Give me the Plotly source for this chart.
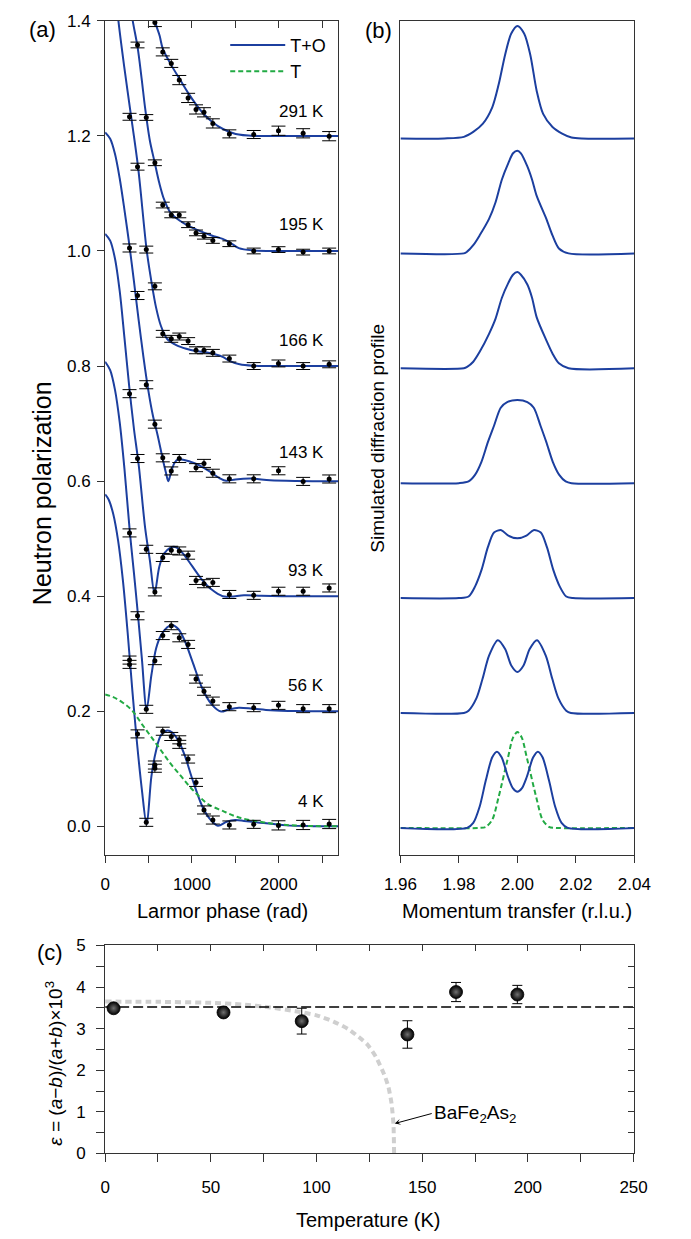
import plotly.graph_objects as go

W, H = 691, 1239
BLUE = "#1c3f9f"
GREEN = "#22aa44"
FONT = "Liberation Sans, Arial, sans-serif"

# ---------------- panel (a): measured polarization ----------------
x_4K = [281, 281, 373, 474, 573, 573, 664, 762, 854, 854, 956, 1047, 1139, 1241, 1431, 1712, 1997, 2281, 2581]
y_4K = [0.289, 0.2815, 0.1607, 0.007, 0.1066, 0.101, 0.1653, 0.1562, 0.1504, 0.1425, 0.117, 0.0764, 0.0285, 0.011, 0.0024, 0.0035, 0.0017, 0.0024, 0.0041]
e_4K = [0.007, 0.007, 0.007, 0.007, 0.007, 0.007, 0.007, 0.007, 0.007, 0.007, 0.007, 0.007, 0.007, 0.007, 0.007, 0.007, 0.008, 0.008, 0.008]

x_56K = [281, 373, 474, 573, 664, 762, 854, 956, 1047, 1139, 1241, 1431, 1712, 1997, 2281, 2581]
y_56K = [0.510, 0.366, 0.2034, 0.288, 0.3316, 0.3487, 0.3277, 0.3162, 0.2559, 0.2348, 0.2177, 0.208, 0.2063, 0.2103, 0.2046, 0.2046]
e_56K = [0.007, 0.007, 0.007, 0.007, 0.007, 0.007, 0.007, 0.007, 0.007, 0.007, 0.007, 0.007, 0.007, 0.007, 0.007, 0.007]

x_93K = [281, 373, 474, 573, 664, 762, 854, 956, 1047, 1139, 1241, 1431, 1712, 1997, 2281, 2581]
y_93K = [0.752, 0.6393, 0.4815, 0.4075, 0.4673, 0.4798, 0.4786, 0.4713, 0.4274, 0.4217, 0.424, 0.403, 0.4015, 0.4086, 0.4086, 0.4143]
e_93K = [0.007, 0.007, 0.007, 0.007, 0.007, 0.007, 0.007, 0.007, 0.007, 0.007, 0.007, 0.007, 0.007, 0.007, 0.007, 0.007]

x_143K = [281, 373, 474, 573, 664, 762, 854, 1047, 1139, 1241, 1431, 1712, 1997, 2281, 2581]
y_143K = [1.0052, 0.9226, 0.7675, 0.699, 0.6405, 0.6177, 0.6393, 0.6234, 0.6308, 0.6137, 0.604, 0.604, 0.618, 0.5995, 0.6037]
e_143K = [0.007, 0.007, 0.007, 0.007, 0.007, 0.007, 0.007, 0.007, 0.007, 0.007, 0.007, 0.007, 0.007, 0.007, 0.007]

x_166K = [281, 373, 474, 573, 664, 762, 854, 956, 1047, 1139, 1241, 1431, 1712, 1997, 2281, 2581]
y_166K = [1.2332, 1.1465, 1.0024, 0.9385, 0.856, 0.8473, 0.8513, 0.8434, 0.8274, 0.8274, 0.8229, 0.813, 0.800, 0.8045, 0.800, 0.803]
e_166K = [0.006, 0.006, 0.006, 0.006, 0.006, 0.006, 0.006, 0.006, 0.006, 0.006, 0.006, 0.006, 0.006, 0.006, 0.006, 0.006]

x_195K = [373, 474, 573, 664, 762, 854, 956, 1047, 1139, 1241, 1431, 1712, 1997, 2281, 2581]
y_195K = [1.358, 1.232, 1.1533, 1.0798, 1.0627, 1.0627, 1.0456, 1.0314, 1.0256, 1.0183, 1.0126, 1.000, 1.0024, 0.998, 1.000]
e_195K = [0.005, 0.005, 0.005, 0.005, 0.005, 0.005, 0.005, 0.005, 0.005, 0.005, 0.005, 0.005, 0.005, 0.005, 0.005]

x_291K = [573, 664, 762, 854, 956, 1047, 1139, 1241, 1431, 1712, 1997, 2281, 2581]
y_291K = [1.397, 1.346, 1.326, 1.297, 1.266, 1.246, 1.241, 1.2217, 1.2035, 1.2024, 1.209, 1.2045, 1.1995]
e_291K = [0.007, 0.007, 0.007, 0.008, 0.008, 0.008, 0.008, 0.008, 0.007, 0.007, 0.008, 0.008, 0.008]

# fitted curves (T+O model)
fx_4K = [0, 40, 94, 149, 204, 259, 314, 368, 423, 478, 533, 587, 642, 715, 770, 843, 916, 1007, 1117, 1208, 1300, 1400, 1500, 1600, 1759, 2088, 2400, 2700]
fy_4K = [0.577, 0.568, 0.5425, 0.497, 0.4285, 0.3374, 0.2349, 0.1436, 0.064, 0.003, 0.0867, 0.132, 0.158, 0.1665, 0.1636, 0.149, 0.1238, 0.081, 0.0354, 0.0126, 0.001, 0.008, 0.011, 0.0095, 0.0068, 0.0017, 0.0003, 0.0]

fx_56K = [0, 58, 113, 168, 222, 285, 332, 379, 423, 478, 533, 587, 642, 715, 770, 843, 916, 1007, 1117, 1227, 1336, 1420, 1540, 1700, 1906, 2200, 2700]
fy_56K = [0.8075, 0.793, 0.759, 0.702, 0.622, 0.511, 0.440, 0.366, 0.2918, 0.2034, 0.263, 0.309, 0.3316, 0.346, 0.350, 0.343, 0.323, 0.286, 0.2405, 0.212, 0.1995, 0.203, 0.2063, 0.2045, 0.2017, 0.2003, 0.2]

fx_93K = [0, 58, 113, 168, 222, 277, 332, 387, 460, 515, 569, 624, 679, 752, 790, 825, 898, 1007, 1117, 1227, 1354, 1450, 1600, 1800, 2100, 2700]
fy_93K = [1.0297, 1.018, 0.987, 0.930, 0.850, 0.765, 0.6906, 0.628, 0.5197, 0.4627, 0.405, 0.4513, 0.474, 0.4844, 0.486, 0.4844, 0.474, 0.4513, 0.4285, 0.4115, 0.400, 0.3995, 0.4015, 0.4008, 0.4, 0.4]

fx_143K = [0, 58, 113, 168, 222, 277, 332, 387, 441, 496, 550, 606, 664, 700, 728, 760, 800, 844, 900, 1030, 1175, 1321, 1394, 1500, 1680, 1900, 2200, 2700]
fy_143K = [1.206, 1.195, 1.169, 1.126, 1.072, 1.0126, 0.947, 0.879, 0.816, 0.759, 0.714, 0.679, 0.638, 0.615, 0.600, 0.616, 0.632, 0.638, 0.637, 0.631, 0.6195, 0.605, 0.6005, 0.603, 0.6046, 0.6015, 0.6003, 0.6]

fx_166K = [0, 100, 153, 220, 285, 379, 478, 533, 587, 642, 715, 825, 934, 1044, 1190, 1354, 1431, 1550, 1700, 1900, 2200, 2700]
fy_166K = [1.63, 1.48, 1.40, 1.32, 1.249, 1.146, 1.002, 0.947, 0.9015, 0.870, 0.847, 0.836, 0.830, 0.826, 0.823, 0.816, 0.809, 0.803, 0.8005, 0.800, 0.800, 0.8]

fx_195K = [150, 250, 318, 373, 420, 460, 515, 569, 624, 679, 752, 861, 971, 1080, 1227, 1354, 1431, 1540, 1712, 2000, 2700]
fy_195K = [1.58, 1.47, 1.40, 1.355, 1.30, 1.249, 1.192, 1.155, 1.118, 1.0895, 1.0667, 1.0525, 1.0427, 1.0354, 1.027, 1.021, 1.0154, 1.005, 1.001, 1.0, 1.0]

fx_291K = [450, 520, 573, 628, 664, 762, 854, 956, 1047, 1139, 1241, 1358, 1504, 1723, 2000, 2700]
fy_291K = [1.56, 1.46, 1.40, 1.374, 1.3516, 1.323, 1.300, 1.2747, 1.2547, 1.2376, 1.2234, 1.212, 1.2034, 1.200, 1.2, 1.2]

# tetragonal-only model (T), 4 K
tx_4K = [0, 94, 204, 314, 423, 533, 642, 752, 861, 971, 1080, 1190, 1354, 1540, 1832, 2088, 2400, 2700]
ty_4K = [0.229, 0.2246, 0.2149, 0.2007, 0.1778, 0.155, 0.1323, 0.1094, 0.0896, 0.0696, 0.0525, 0.0383, 0.0268, 0.0154, 0.0068, 0.0024, 0.0005, 0.0]

temp_labels = ["4 K", "56 K", "93 K", "143 K", "166 K", "195 K", "291 K"]
label_y = [0.044, 0.245, 0.445, 0.650, 0.845, 1.046, 1.243]

# ---------------- panel (b): simulated diffraction profiles ----------------
q_291 = [1.96, 1.975, 1.9817, 1.9849, 1.9882, 1.9914, 1.9936, 1.9958, 1.9979, 2.000, 2.0023, 2.0044, 2.0066, 2.0088, 2.012, 2.0153, 2.0185, 2.022, 2.04]
h_291 = [0, 0, 0.014, 0.057, 0.129, 0.271, 0.471, 0.729, 0.914, 0.980, 0.914, 0.729, 0.414, 0.214, 0.100, 0.043, 0.009, 0, 0]

q_195 = [1.96, 1.9817, 1.9828, 1.9849, 1.9871, 1.9903, 1.9925, 1.9947, 1.9969, 1.9985, 2.000, 2.0012, 2.0034, 2.005, 2.0066, 2.0099, 2.012, 2.0142, 2.0175, 2.04]
h_195 = [0, 0, 0.015, 0.071, 0.157, 0.300, 0.443, 0.643, 0.786, 0.871, 0.894, 0.871, 0.757, 0.643, 0.500, 0.300, 0.157, 0.043, 0, 0]

q_166 = [1.96, 1.9817, 1.9828, 1.9849, 1.9871, 1.9903, 1.9925, 1.9947, 1.9969, 1.9985, 2.000, 2.0012, 2.0034, 2.005, 2.0066, 2.0099, 2.012, 2.0142, 2.0175, 2.04]
h_166 = [0, 0, 0.012, 0.057, 0.143, 0.300, 0.430, 0.614, 0.743, 0.814, 0.837, 0.814, 0.729, 0.614, 0.443, 0.243, 0.129, 0.043, 0, 0]

q_143 = [1.96, 1.980, 1.9833, 1.9855, 1.9877, 1.9899, 1.9920, 1.9943, 1.9965, 2.000, 2.0034, 2.0056, 2.0079, 2.0099, 2.0121, 2.0143, 2.0165, 2.0185, 2.04]
h_143 = [0, 0, 0.015, 0.072, 0.186, 0.357, 0.50, 0.657, 0.706, 0.723, 0.706, 0.657, 0.50, 0.357, 0.186, 0.072, 0.015, 0, 0]

q_93 = [1.96, 1.980, 1.9833, 1.9855, 1.9877, 1.9899, 1.9920, 1.9945, 1.9969, 2.000, 2.0031, 2.0055, 2.0080, 2.0101, 2.0123, 2.0145, 2.0167, 2.0190, 2.04]
h_93 = [0, 0, 0.014, 0.100, 0.243, 0.443, 0.571, 0.591, 0.543, 0.520, 0.543, 0.591, 0.571, 0.443, 0.243, 0.100, 0.014, 0, 0]

q_56 = [1.96, 1.9817, 1.9833, 1.986, 1.9881, 1.9903, 1.9933, 1.9958, 1.9979, 2.000, 2.0021, 2.0042, 2.0067, 2.0097, 2.0119, 2.014, 2.0167, 2.0183, 2.04]
h_56 = [0, 0, 0.020, 0.129, 0.300, 0.500, 0.634, 0.557, 0.414, 0.357, 0.414, 0.557, 0.634, 0.500, 0.300, 0.129, 0.020, 0, 0]

q_4 = [1.96, 1.9828, 1.9849, 1.9871, 1.9892, 1.9914, 1.9930, 1.9946, 1.9968, 1.9985, 2.000, 2.0015, 2.0032, 2.0054, 2.0070, 2.0086, 2.0108, 2.0129, 2.0151, 2.0172, 2.04]
h_4 = [0, 0, 0.043, 0.186, 0.414, 0.614, 0.663, 0.614, 0.443, 0.343, 0.314, 0.343, 0.443, 0.614, 0.663, 0.614, 0.414, 0.186, 0.043, 0, 0]

q_T = [1.96, 1.9870, 1.9892, 1.9914, 1.9936, 1.9968, 1.9985, 2.000, 2.0015, 2.0032, 2.0064, 2.0086, 2.0108, 2.013, 2.04]
h_T = [0, 0, 0.009, 0.071, 0.271, 0.614, 0.786, 0.834, 0.786, 0.614, 0.271, 0.071, 0.009, 0, 0]

profile_baselines = [0, 1, 2, 3, 4, 5, 6]

# ---------------- panel (c): orthorhombicity ----------------
T_c = [4, 56, 93, 143, 166, 195]
eps_c = [3.49, 3.39, 3.18, 2.86, 3.88, 3.82]
eps_err = [0.06, 0.06, 0.31, 0.33, 0.23, 0.22]
mean_T = [0, 250]
mean_eps = [3.52, 3.52]
bafe_T = [0, 25, 50, 65, 78, 90, 100, 108, 115, 120, 124, 128, 132, 134, 135.5, 136.4, 136.7]
bafe_eps = [3.65, 3.645, 3.62, 3.58, 3.51, 3.42, 3.32, 3.17, 2.99, 2.80, 2.62, 2.33, 1.90, 1.60, 1.20, 0.70, 0.0]

# ---------------- layout helpers ----------------
def fx(px):
    return px / W

def fy(py):
    return 1 - py / H

A_X = [fx(92.7), fx(338.0)]
A_Y = [fy(859.3), fy(12.0)]
B_X = [fx(403.3), fx(649.3)]
C_X = [fx(92.7), fx(648.5)]
C_Y = [fy(1162.3), fy(951.0)]

fig = go.Figure()

fits = [(fx_4K, fy_4K), (fx_56K, fy_56K), (fx_93K, fy_93K), (fx_143K, fy_143K),
        (fx_166K, fy_166K), (fx_195K, fy_195K), (fx_291K, fy_291K)]
data = [(x_4K, y_4K, e_4K), (x_56K, y_56K, e_56K), (x_93K, y_93K, e_93K), (x_143K, y_143K, e_143K),
        (x_166K, y_166K, e_166K), (x_195K, y_195K, e_195K), (x_291K, y_291K, e_291K)]

for i, (xs, ys) in enumerate(fits):
    fig.add_trace(go.Scatter(x=xs, y=ys, mode="lines", xaxis="x", yaxis="y",
                             line=dict(color=BLUE, width=2, shape="spline", smoothing=0.9),
                             name="T+O", showlegend=(i == 0), legendrank=1))

fig.add_trace(go.Scatter(x=tx_4K, y=ty_4K, mode="lines", xaxis="x", yaxis="y",
                         line=dict(color=GREEN, width=2, dash="5px,3px", shape="spline"),
                         name="T", showlegend=True, legendrank=2))

for xs, ys, es in data:
    fig.add_trace(go.Scatter(x=xs, y=ys, mode="markers", xaxis="x", yaxis="y",
                             marker=dict(color="black", size=5, symbol="circle"),
                             error_y=dict(type="data", array=es, color="black", thickness=1, width=7),
                             showlegend=False, cliponaxis=True))

# panel (b)
fig.add_trace(go.Scatter(x=q_T, y=[h + profile_baselines[0] for h in h_T], mode="lines",
                         xaxis="x2", yaxis="y2", showlegend=False,
                         line=dict(color=GREEN, width=2, dash="5px,3px", shape="spline", smoothing=0.8)))
profiles = [(q_4, h_4), (q_56, h_56), (q_93, h_93), (q_143, h_143), (q_166, h_166), (q_195, h_195), (q_291, h_291)]
for (qs, hs), b in zip(profiles, profile_baselines):
    fig.add_trace(go.Scatter(x=qs, y=[h + b for h in hs], mode="lines", xaxis="x2", yaxis="y2",
                             showlegend=False,
                             line=dict(color=BLUE, width=2, shape="spline", smoothing=0.8)))

# panel (c)
fig.add_trace(go.Scatter(x=bafe_T, y=bafe_eps, mode="lines", xaxis="x3", yaxis="y3", showlegend=False,
                         line=dict(color="#cfcfcf", width=4, dash="6px,4px", shape="spline", smoothing=0.6)))
fig.add_trace(go.Scatter(x=mean_T, y=mean_eps, mode="lines", xaxis="x3", yaxis="y3", showlegend=False,
                         line=dict(color="black", width=1.3, dash="10px,4px")))
fig.add_trace(go.Scatter(x=T_c, y=eps_c, mode="markers", xaxis="x3", yaxis="y3", showlegend=False,
                         marker=dict(color="black", size=13,
                                     gradient=dict(type="radial", color="#707070"),
                                     line=dict(color="black", width=0.8)),
                         error_y=dict(type="data", array=eps_err, color="black", thickness=1, width=5)))

# dummy traces to host mirrored inside ticks
fig.add_trace(go.Scatter(x=[], y=[], xaxis="x4", yaxis="y", showlegend=False))
fig.add_trace(go.Scatter(x=[], y=[], xaxis="x5", yaxis="y3", showlegend=False))
fig.add_trace(go.Scatter(x=[], y=[], xaxis="x3", yaxis="y4", showlegend=False))

AXC = "#333333"
TF = dict(family=FONT, size=17, color="black")
common = dict(showgrid=False, zeroline=False, showline=True, linecolor=AXC, linewidth=1,
              tickcolor=AXC, tickfont=TF)

fig.update_layout(
    width=W, height=H, margin=dict(l=0, r=0, t=0, b=0),
    paper_bgcolor="white", plot_bgcolor="white",
    font=dict(family=FONT, size=17, color="black"),
    xaxis=dict(domain=A_X, anchor="y", range=[0, 2687], dtick=1000, tick0=0, ticks="outside",
               ticklen=7, mirror=True, ticklabelstandoff=6,
               minor=dict(dtick=500, tick0=0, ticks="outside", ticklen=7, tickcolor=AXC), **common),
    yaxis=dict(domain=A_Y, anchor="x", range=[-0.05, 1.4], dtick=0.2, tick0=0, tickformat=".1f",
               ticks="outside", ticklen=7, mirror=True, ticklabelstandoff=3, **common),
    xaxis2=dict(domain=B_X, anchor="y2", range=[1.96, 2.04], dtick=0.02, tick0=1.96, tickformat=".2f",
                ticks="outside", ticklen=7, mirror=True, ticklabelstandoff=6, **common),
    yaxis2=dict(domain=A_Y, anchor="x2", range=[-0.237, 7.024], showticklabels=False, ticks="",
                mirror=True, **common),
    xaxis3=dict(domain=C_X, anchor="y3", range=[0, 250], dtick=50, tick0=0, ticks="outside", ticklen=8,
                mirror=True, ticklabelstandoff=10,
                minor=dict(dtick=25, tick0=0, ticks="outside", ticklen=8, tickcolor=AXC), **common),
    yaxis3=dict(domain=C_Y, anchor="x3", range=[0, 5], dtick=1, tick0=0, ticks="outside", ticklen=8,
                mirror=True, ticklabelstandoff=7,
                minor=dict(dtick=0.5, tick0=0, ticks="outside", ticklen=8, tickcolor=AXC), **common),
    xaxis4=dict(overlaying="x", anchor="y", side="top", range=[0, 2687], dtick=500, tick0=0,
                ticks="inside", ticklen=7, tickcolor=AXC, showticklabels=False, showline=False,
                showgrid=False, zeroline=False),
    xaxis5=dict(overlaying="x3", anchor="y3", side="top", range=[0, 250], dtick=25, tick0=0,
                ticks="inside", ticklen=6, tickcolor=AXC, showticklabels=False, showline=False,
                showgrid=False, zeroline=False),
    yaxis4=dict(overlaying="y3", anchor="x3", side="right", range=[0, 5], dtick=0.5, tick0=0,
                ticks="inside", ticklen=6, tickcolor=AXC, showticklabels=False, showline=False,
                showgrid=False, zeroline=False),
    legend=dict(x=fx(219), y=fy(18), xanchor="left", yanchor="top", bgcolor="rgba(0,0,0,0)",
                font=dict(family=FONT, size=18), itemwidth=55, tracegroupgap=0),
    showlegend=True,
)

ann = []
for txt, yy in zip(temp_labels, label_y):
    ann.append(dict(x=2544, y=yy, xref="x", yref="y", text=txt, showarrow=False,
                    xanchor="right", yanchor="middle", font=dict(family=FONT, size=17)))

def pa(text, px, py, size, angle=0, **kw):
    ann.append(dict(x=fx(px), y=fy(py), xref="paper", yref="paper", text=text, showarrow=False,
                    xanchor="center", yanchor="middle", textangle=angle,
                    font=dict(family=FONT, size=size, color="black"), **kw))

pa("(a)", 27, 21, 22)
pa("(b)", 380, 22, 22)
pa("(c)", 35, 958, 22)
pa("Larmor phase (rad)", 216, 916, 20)
pa("Momentum transfer (r.l.u.)", 526, 916, 20)
pa("Temperature (K)", 370, 1230, 20)
pa("Neutron polarization", 27, 492, 25, angle=-90)
pa("Simulated diffraction profile", 379, 436, 19, angle=-90)
pa("<i>ε</i> = (<i>a</i>\u2212<i>b</i>)/(<i>a</i>+<i>b</i>)\u00d710<sup>3</sup>", 38, 1071, 19, angle=-90)

ann.append(dict(x=137, y=0.72, xref="x3", yref="y3", ax=154.5, ay=0.96, axref="x3", ayref="y3",
                text="BaFe<sub>2</sub>As<sub>2</sub>", showarrow=True, arrowhead=3, arrowsize=1,
                arrowwidth=1, arrowcolor="black", xanchor="left", yanchor="middle", standoff=0,
                font=dict(family=FONT, size=19, color="black")))

fig.update_layout(annotations=ann)
fig.write_html("out.html")
